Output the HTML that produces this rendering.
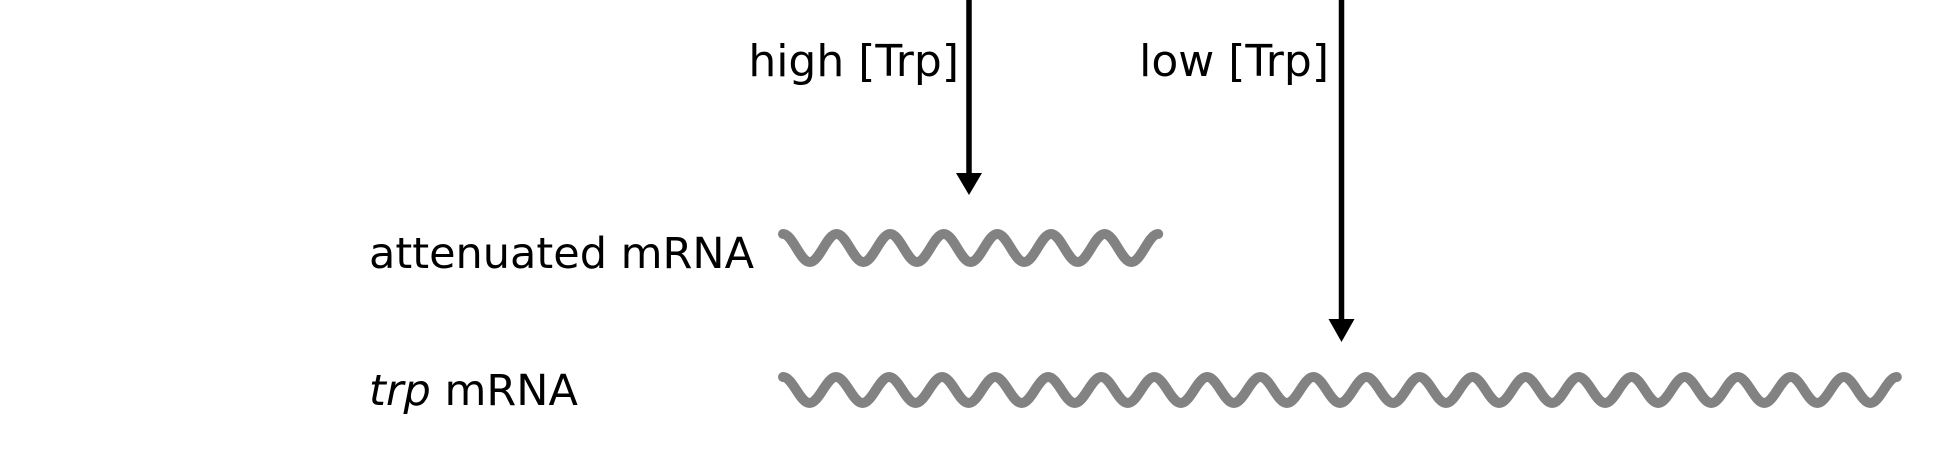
<!DOCTYPE html>
<html><head><meta charset="utf-8"><style>
html,body{margin:0;padding:0;background:#fff;}
svg{display:block;}
text{font-family:"DejaVu Sans","Liberation Sans",sans-serif;font-size:43px;fill:#000;}
</style></head><body>
<svg width="1955" height="466" viewBox="0 0 1955 466" xmlns="http://www.w3.org/2000/svg">
<rect width="1955" height="466" fill="#fff"/>
<text x="959" y="76" text-anchor="end" style="font-size:44px">high [Trp]</text>
<text x="1329" y="76" text-anchor="end" style="font-size:44px">low [Trp]</text>
<text x="369" y="268">attenuated mRNA</text>
<text x="369" y="405"><tspan font-style="italic">trp</tspan> mRNA</text>
<line x1="969" y1="0" x2="969" y2="176" stroke="#000" stroke-width="5.5"/>
<polygon points="956,173 982,173 969,195" fill="#000"/>
<line x1="1341.5" y1="0" x2="1341.5" y2="322" stroke="#000" stroke-width="5.5"/>
<polygon points="1328.5,319 1354.5,319 1341.5,342" fill="#000"/>
<path fill="none" stroke="#828282" stroke-width="10" stroke-linecap="round"
d="M783,234 c9.76,0 17.04,28 26.8,28 s17.04,-28 26.8,-28 s17.04,28 26.8,28 s17.04,-28 26.8,-28 s17.04,28 26.8,28 s17.04,-28 26.8,-28 s17.04,28 26.8,28 s17.04,-28 26.8,-28 s17.04,28 26.8,28 s17.04,-28 26.8,-28 s17.04,28 26.8,28 s17.04,-28 26.8,-28 s17.04,28 26.8,28 s17.04,-28 26.8,-28"/>
<path fill="none" stroke="#828282" stroke-width="10" stroke-linecap="round"
d="M783,377 c9.66,0 16.86,26 26.52,26 s16.86,-26 26.52,-26 s16.86,26 26.52,26 s16.86,-26 26.52,-26 s16.86,26 26.52,26 s16.86,-26 26.52,-26 s16.86,26 26.52,26 s16.86,-26 26.52,-26 s16.86,26 26.52,26 s16.86,-26 26.52,-26 s16.86,26 26.52,26 s16.86,-26 26.52,-26 s16.86,26 26.52,26 s16.86,-26 26.52,-26 s16.86,26 26.52,26 s16.86,-26 26.52,-26 s16.86,26 26.52,26 s16.86,-26 26.52,-26 s16.86,26 26.52,26 s16.86,-26 26.52,-26 s16.86,26 26.52,26 s16.86,-26 26.52,-26 s16.86,26 26.52,26 s16.86,-26 26.52,-26 s16.86,26 26.52,26 s16.86,-26 26.52,-26 s16.86,26 26.52,26 s16.86,-26 26.52,-26 s16.86,26 26.52,26 s16.86,-26 26.52,-26 s16.86,26 26.52,26 s16.86,-26 26.52,-26 s16.86,26 26.52,26 s16.86,-26 26.52,-26 s16.86,26 26.52,26 s16.86,-26 26.52,-26 s16.86,26 26.52,26 s16.86,-26 26.52,-26 s16.86,26 26.52,26 s16.86,-26 26.52,-26 s16.86,26 26.52,26 s16.86,-26 26.52,-26"/>
</svg>
</body></html>
